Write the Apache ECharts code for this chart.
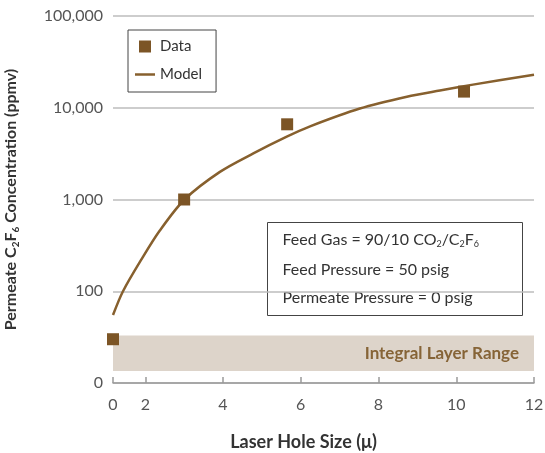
<!DOCTYPE html>
<html>
<head>
<meta charset="utf-8">
<script src="https://cdn.jsdelivr.net/npm/echarts@6/dist/echarts.min.js"></script>
<style>
  html, body { margin: 0; padding: 0; background: #fff; }
  #chart { width: 545px; height: 453px; }
</style>
</head>
<body>
<div id="chart"></div>
<script>
// Measured permeate concentration
const dataX = [0, 3.0, 5.65, 10.2];
const dataY = [30, 1000, 6600, 15000];

// Model curve
const modelX = [0, 0.62, 1.76, 2.37, 3.01, 3.92, 4.78, 5.64, 6.24, 7.52, 8.73, 9.58, 10.43, 12];
const modelY = [55, 100, 222, 456, 1000, 2000, 3180, 4840, 6270, 9800, 13190, 15420, 17860, 22860];

// Integral layer band (ppmv)
const layerRange = [13.5, 33];

// Axis ticks
const xTicks = [0, 2, 4, 6, 8, 10, 12];

// The x axis is compressed between 0 and 2 (axis break)
const X_BREAK = 2;
const X_ORIGIN = 1.17;
function axisX(x) {
  return x >= X_BREAK ? x : X_ORIGIN + x * (X_BREAK - X_ORIGIN) / X_BREAK;
}

const FONT = 'Lato';
const BROWN = '#7c5526';
const LINE = '#87602e';

const chart = echarts.init(document.getElementById('chart'), null, { renderer: 'canvas' });

const scatterData = dataX.map((x, i) => [axisX(x), dataY[i]]);
const modelData = modelX.map((x, i) => [axisX(x), modelY[i]]);
const xTickPos = xTicks.map(axisX);

chart.setOption({
  animation: false,
  textStyle: { fontFamily: FONT },
  grid: { left: 113, right: 11, top: 16, bottom: 70, containLabel: false, outerBoundsMode: 'none' },
  legend: {
    orient: 'vertical',
    left: 128,
    top: 30,
    padding: [8, 14, 9, 7],
    itemGap: 11,
    itemWidth: 20,
    itemHeight: 12,
    borderColor: '#444',
    borderWidth: 1,
    backgroundColor: '#fff',
    selectedMode: false,
    textStyle: { fontFamily: FONT, fontSize: 15, color: '#333', lineHeight: 17 },
    data: [
      { name: 'Data', icon: 'path://M0,0H10V10H0Z', itemStyle: { color: BROWN, opacity: 1 } },
      { name: 'Model', icon: 'path://M0,0H20V2.5H0Z', itemStyle: { color: LINE } }
    ]
  },
  xAxis: {
    type: 'value',
    min: X_ORIGIN,
    max: 12,
    name: 'Laser Hole Size (μ)',
    nameLocation: 'middle',
    nameGap: 50,
    nameTextStyle: { fontFamily: FONT, fontSize: 18, fontWeight: 'bold', color: '#333', padding: [0, 40, 0, 0] },
    axisLine: { show: true, lineStyle: { color: '#9a9a9a', width: 1.5 } },
    axisTick: { show: true, inside: true, length: 6, customValues: xTickPos, lineStyle: { color: '#9a9a9a', width: 1.5 } },
    axisLabel: {
      customValues: xTickPos,
      margin: 14,
      fontSize: 16,
      color: '#555',
      formatter: v => (v < X_BREAK ? '0' : String(Math.round(v)))
    },
    splitLine: { show: false }
  },
  yAxis: {
    type: 'log',
    logBase: 10,
    min: 10,
    max: 100000,
    name: '{a|Permeate C}{s|2}{a|F}{s|6}{a| Concentration (ppmv)}',
    nameLocation: 'middle',
    nameGap: 92,
    nameRotate: 90,
    nameTextStyle: {
      rich: {
        a: { fontFamily: FONT, fontSize: 16, fontWeight: 'bold', color: '#333', lineHeight: 20 },
        s: { fontFamily: FONT, fontSize: 10, fontWeight: 'bold', color: '#333', lineHeight: 20, verticalAlign: 'bottom', padding: [8, 0, 0, 0] }
      }
    },
    axisLine: { show: false },
    axisTick: { show: false },
    axisLabel: {
      margin: 10,
      fontSize: 16,
      color: '#555',
      formatter: v => (v === 10 ? '0' : Number(v).toLocaleString('en-US'))
    },
    splitLine: { show: true, lineStyle: { color: '#bdbdbd', width: 1.5 } }
  },
  series: [
    {
      name: 'Model',
      type: 'line',
      data: modelData,
      smooth: 0.3,
      symbol: 'none',
      lineStyle: { color: LINE, width: 2.5 },
      itemStyle: { color: LINE },
      z: 3,
      markArea: {
        silent: true,
        itemStyle: { color: '#ddd4ca' },
        label: {
          show: true,
          position: 'insideRight',
          distance: 15,
          fontFamily: FONT,
          fontSize: 17,
          fontWeight: 'bold',
          color: '#866437'
        },
        data: [[
          { name: 'Integral Layer Range', xAxis: X_ORIGIN, yAxis: layerRange[0] },
          { xAxis: 12, yAxis: layerRange[1] }
        ]]
      }
    },
    {
      name: 'Data',
      type: 'scatter',
      data: scatterData,
      symbol: 'rect',
      symbolSize: 12,
      itemStyle: { color: BROWN, opacity: 1 },
      z: 5
    }
  ],
  graphic: [
    {
      type: 'group',
      left: 267,
      top: 222,
      children: [
        {
          type: 'rect',
          shape: { x: 0, y: 0, width: 255, height: 93 },
          style: { fill: '#fff', stroke: '#444', lineWidth: 1 }
        },
        {
          type: 'text',
          x: 15,
          y: 17,
          style: {
            text: '{t|Feed Gas = 90/10 CO}{s|2}{t|/C}{s|2}{t|F}{s|6}',
            verticalAlign: 'middle',
            rich: {
              t: { fontFamily: FONT, fontSize: 16, fill: '#333', lineHeight: 18 },
              s: { fontFamily: FONT, fontSize: 9, fill: '#333', lineHeight: 18, verticalAlign: 'bottom', padding: [7, 0, 0, 0] }
            }
          }
        },
        {
          type: 'text',
          x: 15,
          y: 47,
          style: { text: 'Feed Pressure = 50 psig', fontFamily: FONT, fontSize: 16, fill: '#333', verticalAlign: 'middle' }
        },
        {
          type: 'text',
          x: 15,
          y: 75,
          style: { text: 'Permeate Pressure = 0 psig', fontFamily: FONT, fontSize: 16, fill: '#333', verticalAlign: 'middle' }
        }
      ]
    }
  ]
});
</script>
</body>
</html>
